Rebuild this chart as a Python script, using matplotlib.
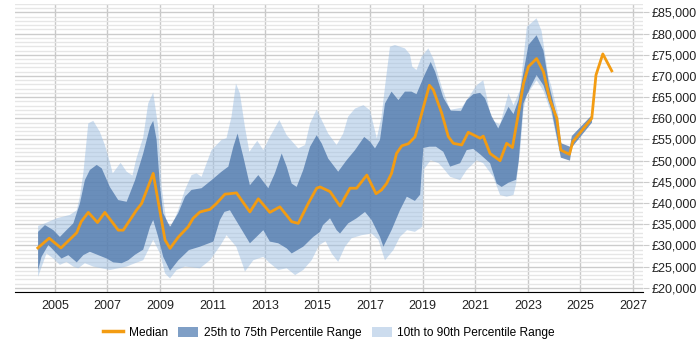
import matplotlib
matplotlib.use("Agg")
import matplotlib.pyplot as plt
import numpy as np
from matplotlib.patches import Patch
from matplotlib.lines import Line2D
from matplotlib.ticker import FuncFormatter, MultipleLocator

# == data (year, salary in £k) ==
median_t = [2004.35, 2004.78, 2005.23, 2005.83, 2006.0, 2006.27, 2006.62, 2006.9, 2007.41, 2007.6,
            2008.1, 2008.3, 2008.74, 2009.19, 2009.38, 2009.7, 2010.07, 2010.26, 2010.52, 2010.9,
            2011.15, 2011.47, 2011.66, 2011.91, 2012.1, 2012.42, 2012.74, 2013.18, 2013.56, 2014.01,
            2014.26, 2014.64, 2014.96, 2015.09, 2015.47, 2015.85, 2016.23, 2016.48, 2016.87, 2017.22,
            2017.43, 2017.62, 2017.81, 2018.0, 2018.2, 2018.45, 2018.7, 2018.89, 2019.25, 2019.4,
            2019.72, 2019.97, 2020.16, 2020.48, 2020.73, 2021.18, 2021.3, 2021.56, 2021.94, 2022.19,
            2022.41, 2022.64, 2022.83, 2023.02, 2023.33, 2023.59, 2023.84, 2024.1, 2024.25, 2024.58,
            2024.71, 2025.43, 2025.59, 2025.85, 2026.19]
median_v = [29.4, 31.7, 29.4, 33.0, 35.6, 37.8, 35.4, 37.8, 33.6, 33.6,
            38.3, 39.9, 47.0, 31.3, 29.3, 32.0, 34.4, 36.4, 37.9, 38.5,
            39.9, 42.1, 42.2, 42.4, 40.7, 37.9, 41.0, 37.8, 39.1, 35.6,
            35.2, 39.9, 43.5, 43.8, 42.7, 39.3, 43.5, 43.5, 46.6, 42.2,
            43.1, 44.6, 47.0, 51.7, 53.5, 54.0, 55.6, 59.6, 67.8, 66.7,
            61.2, 55.7, 54.1, 53.7, 56.7, 55.3, 55.8, 51.7, 50.0, 54.1,
            53.1, 61.2, 68.2, 72.2, 74.1, 71.0, 64.3, 60.0, 52.5, 51.5,
            54.5, 60.0, 70.2, 75.2, 71.2]

p90_t = [2004.36, 2004.62, 2005.06, 2005.57, 2005.83, 2005.95, 2006.08, 2006.27, 2006.46, 2006.71,
         2006.9, 2007.09, 2007.2, 2007.5, 2007.73, 2007.95, 2008.1, 2008.36, 2008.55, 2008.74,
         2008.93, 2009.06, 2009.25, 2009.44, 2009.69, 2009.95, 2010.2, 2010.39, 2010.58, 2010.96,
         2011.34, 2011.53, 2011.72, 2011.89, 2012.04, 2012.23, 2012.4, 2012.7, 2012.93, 2013.18,
         2013.54, 2013.82, 2014.26, 2014.52, 2014.71, 2014.96, 2015.09, 2015.4, 2015.72, 2015.97,
         2016.16, 2016.42, 2016.74, 2016.99, 2017.25, 2017.43, 2017.56, 2017.75, 2017.94, 2018.32,
         2018.51, 2018.6, 2018.76, 2018.95, 2019.21, 2019.4, 2019.72, 2020.04, 2020.48, 2020.8,
         2021.05, 2021.3, 2021.62, 2021.94, 2022.26, 2022.45, 2022.7, 2022.96, 2023.33, 2023.52,
         2023.78, 2023.9, 2024.15, 2024.26]
p90_v = [34.6, 35.2, 36.4, 37.2, 38.3, 41.5, 47.0, 58.8, 59.4, 56.8,
         53.7, 49.7, 47.0, 49.5, 47.4, 46.5, 50.5, 55.5, 63.5, 66.1,
         58.0, 43.8, 35.2, 34.4, 38.3, 43.1, 46.6, 47.0, 46.2, 52.5,
         54.9, 55.3, 60.4, 68.2, 65.9, 58.0, 52.1, 54.7, 52.5, 55.6,
         59.6, 56.0, 52.9, 53.7, 58.8, 62.1, 60.4, 56.4, 53.7, 56.4,
         60.4, 62.3, 63.1, 61.9, 55.3, 60.4, 67.4, 76.9, 77.3, 76.5,
         75.1, 72.2, 71.4, 74.5, 76.5, 74.1, 67.4, 62.0, 62.5, 65.5,
         67.8, 69.0, 59.6, 58.5, 65.9, 63.1, 66.7, 81.6, 83.6, 80.6,
         69.8, 67.4, 60.8, 54.1]

p75_t = [2004.36, 2004.62, 2004.94, 2005.19, 2005.44, 2005.7, 2005.95, 2006.14, 2006.33, 2006.59,
         2006.78, 2007.09, 2007.41, 2007.73, 2008.05, 2008.36, 2008.62, 2008.74, 2008.87, 2009.0,
         2009.12, 2009.38, 2009.69, 2009.95, 2010.2, 2010.58, 2010.96, 2011.34, 2011.6, 2011.79,
         2011.95, 2012.17, 2012.42, 2012.74, 2013.12, 2013.37, 2013.63, 2013.82, 2014.01, 2014.2,
         2014.45, 2014.71, 2014.96, 2015.15, 2015.4, 2015.78, 2016.1, 2016.42, 2016.77, 2016.99,
         2017.18, 2017.37, 2017.56, 2017.81, 2018.07, 2018.32, 2018.57, 2018.76, 2019.05, 2019.3,
         2019.47, 2019.78, 2020.07, 2020.45, 2020.67, 2020.92, 2021.18, 2021.37, 2021.62, 2021.87,
         2022.26, 2022.45, 2022.64, 2023.02, 2023.33, 2023.59, 2023.81, 2024.1, 2024.27, 2024.6,
         2024.67, 2025.44]
p75_v = [33.2, 34.8, 33.6, 32.0, 33.6, 35.2, 39.9, 45.4, 47.8, 49.0,
         48.2, 43.8, 40.7, 40.3, 45.4, 51.7, 58.0, 59.4, 54.9, 43.8,
         37.6, 34.4, 37.6, 41.5, 43.1, 43.5, 45.4, 47.4, 48.6, 53.3,
         56.4, 50.9, 44.2, 46.6, 43.5, 47.0, 51.7, 48.6, 44.6, 43.8,
         47.8, 53.3, 56.0, 54.1, 50.5, 47.4, 50.1, 52.5, 55.6, 54.5,
         52.9, 54.9, 63.5, 66.3, 64.3, 66.3, 66.3, 65.7, 70.0, 73.3,
         71.0, 64.9, 61.8, 61.7, 64.3, 65.7, 66.0, 64.7, 60.5, 57.6,
         62.7, 61.0, 64.3, 77.3, 79.6, 76.0, 67.7, 60.4, 54.1, 53.3,
         55.8, 60.8]

p25_t = [2004.36, 2004.49, 2004.75, 2004.94, 2005.25, 2005.51, 2005.83, 2006.08, 2006.33, 2006.65,
         2006.97, 2007.22, 2007.54, 2007.79, 2008.05, 2008.36, 2008.62, 2008.74, 2008.93, 2009.12,
         2009.38, 2009.7, 2010.1, 2010.52, 2011.03, 2011.28, 2011.45, 2011.66, 2012.04, 2012.42,
         2012.67, 2012.93, 2013.18, 2013.5, 2013.82, 2014.01, 2014.45, 2014.83, 2015.09, 2015.2,
         2015.47, 2015.72, 2015.85, 2016.16, 2016.48, 2016.8, 2017.05, 2017.37, 2017.5, 2017.81,
         2018.13, 2018.39, 2018.7, 2018.9, 2019.02, 2019.25, 2019.5, 2019.78, 2020.04, 2020.42,
         2020.67, 2020.92, 2021.18, 2021.56, 2021.81, 2022.0, 2022.26, 2022.55, 2022.65, 2022.83,
         2022.96, 2023.1, 2023.33, 2023.59, 2023.9, 2024.15, 2024.26, 2024.6, 2024.67, 2025.44]
p25_v = [24.2, 27.3, 30.1, 28.9, 26.9, 27.7, 26.0, 27.7, 28.5, 27.7,
         26.9, 26.0, 25.8, 26.5, 27.8, 29.0, 34.4, 36.0, 32.0, 27.3,
         24.0, 26.5, 28.9, 29.7, 30.9, 36.0, 37.9, 38.3, 34.4, 30.5,
         32.0, 33.6, 30.9, 30.5, 29.3, 28.1, 29.7, 32.0, 33.2, 34.8,
         36.4, 33.6, 32.8, 35.2, 36.4, 37.9, 36.0, 32.0, 29.7, 33.6,
         38.3, 41.5, 40.5, 42.0, 53.0, 53.3, 53.3, 52.1, 48.6, 49.4,
         52.5, 52.8, 51.5, 49.4, 44.6, 43.8, 44.8, 45.5, 50.0, 63.5,
         65.5, 67.4, 70.2, 67.8, 61.9, 54.1, 50.7, 50.0, 53.1, 59.0]

p10_t = [2004.36, 2004.68, 2004.94, 2005.19, 2005.44, 2005.7, 2005.89, 2006.14, 2006.46, 2007.09,
         2007.73, 2008.05, 2008.36, 2008.74, 2009.0, 2009.19, 2009.38, 2009.63, 2009.95, 2010.52,
         2010.9, 2011.3, 2011.53, 2011.9, 2012.17, 2012.23, 2012.55, 2012.93, 2013.18, 2013.5,
         2013.82, 2014.14, 2014.45, 2014.77, 2015.05, 2015.3, 2015.53, 2015.78, 2016.04, 2016.29,
         2016.67, 2017.05, 2017.31, 2017.56, 2017.88, 2018.13, 2018.4, 2018.7, 2018.98, 2019.05,
         2019.3, 2019.6, 2019.78, 2020.04, 2020.42, 2020.67, 2021.05, 2021.3, 2021.68, 2021.94,
         2022.19, 2022.45, 2022.55, 2022.7, 2022.83, 2022.96, 2023.33, 2023.59, 2023.9, 2024.15,
         2024.26]
p10_v = [22.6, 28.1, 26.9, 25.4, 26.1, 25.0, 24.6, 25.8, 25.0, 24.2,
         25.0, 25.8, 26.5, 31.3, 28.1, 23.4, 22.2, 24.2, 25.0, 24.6,
         26.5, 30.0, 32.4, 29.7, 25.0, 23.8, 26.5, 27.3, 25.8, 24.2,
         24.6, 23.0, 24.2, 26.5, 30.0, 31.0, 28.1, 26.1, 29.7, 31.7,
         32.4, 32.8, 31.3, 26.5, 28.9, 32.0, 33.6, 33.2, 34.4, 48.0,
         50.1, 49.4, 48.2, 46.2, 45.4, 47.8, 50.1, 49.4, 46.2, 41.9,
         41.5, 41.9, 44.5, 52.0, 62.0, 65.5, 69.0, 66.5, 61.0, 53.5,
         50.3]

years = list(range(2005, 2028, 2))

# == plot ==
plt.rcParams['font.family'] = ['Liberation Sans', 'DejaVu Sans']
fig = plt.figure(figsize=(7, 3.5), dpi=100)
ax = fig.add_axes([0.0214, 0.1657, 0.8972, 0.8231])

k = 1000
light = '#9bbde1'
dark = '#4a74a9'
orange = '#f39c12'

ax.fill(np.concatenate([p90_t, p10_t[::-1]]), np.concatenate([p90_v, p10_v[::-1]]) * k,
        color=light, alpha=0.5, lw=0, zorder=2)
ax.fill(np.concatenate([p75_t, p25_t[::-1]]), np.concatenate([p75_v, p25_v[::-1]]) * k,
        color=dark, alpha=0.75, lw=0, zorder=3)
ax.plot(median_t, np.array(median_v) * k, color=orange, lw=2, zorder=4)

ax.set_xlim(2003.48, 2027.38)
ax.set_ylim(19000, 87000)
ax.set_xticks(years)
ax.yaxis.set_major_locator(MultipleLocator(5000))
ax.yaxis.set_minor_locator(MultipleLocator(1000))
ax.yaxis.set_major_formatter(FuncFormatter(lambda v, p: f'£{v:,.0f}'))
ax.yaxis.tick_right()
ax.set_yticks(np.arange(20000, 85001, 5000))

ax.grid(axis='y', which='major', color='#cccccc', lw=1, zorder=0)
ax.grid(axis='y', which='minor', color='#e6e6e6', lw=1, zorder=0)
ax.grid(axis='x', which='major', color='#c8c8c8', lw=1, zorder=0)
ax.set_axisbelow(True)

for s in ['left', 'right', 'top']:
    ax.spines[s].set_visible(False)
ax.spines['bottom'].set_color('#000000')
ax.tick_params(axis='x', length=0, labelsize=9, pad=6, colors='#222222')
ax.tick_params(axis='y', which='major', length=4, color='#cccccc', labelsize=9, pad=2,
               colors='#222222')
ax.tick_params(axis='y', which='minor', length=0)
for t in ax.get_yticklabels():
    t.set_color('#222222')

handles = [Line2D([0], [0], color=orange, lw=2.5),
           Patch(facecolor='#7f9fc6', edgecolor='none'),
           Patch(facecolor='#ccdcee', edgecolor='none')]
labels = ['Median', '25th to 75th Percentile Range', '10th to 90th Percentile Range']
fig.legend(handles, labels, loc='center', bbox_to_anchor=(0.47, 0.049), ncol=3,
           frameon=False, fontsize=8.6, handlelength=1.7, handleheight=0.9,
           handletextpad=0.45, columnspacing=0.85)

fig.savefig('out.png', dpi=100)
